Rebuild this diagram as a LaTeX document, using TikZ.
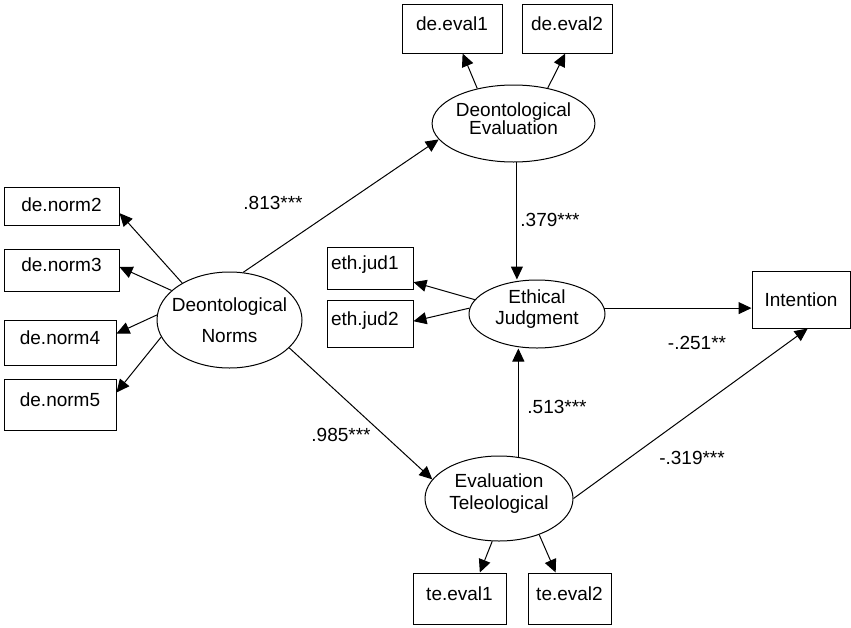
\documentclass[tikz,border=0pt]{standalone}
\usepackage{fontspec}
\setmainfont{Liberation Sans}
\usetikzlibrary{shapes.geometric,arrows.meta}
\begin{document}
\begin{tikzpicture}[x=0.5pt,y=-0.5pt,line width=0.5pt,font=\fontsize{9.5}{10}\selectfont,
	>={Triangle[length=6.5pt,width=6pt]},
	box/.style={draw,inner sep=0pt,text depth=5pt},
	lat/.style={draw,ellipse,inner xsep=0pt,inner ysep=-1pt,align=center},
	jtxt/.style={anchor=north west,inner xsep=2pt}]
			\useasboundingbox (0,0) rectangle (851,627);
			% biến tiềm ẩn
			\node[lat,text depth=5pt,minimum width=80.5pt,minimum height=38.5pt] (de) at (513.5,123.5) {Deontological\\[-1pt]Evaluation};
			\node[lat,inner xsep=-4pt,minimum width=72.5pt,minimum height=48pt] (dn) at (229.5,320) {Deontological\\[5.5pt]Norms};
			\node[lat,text depth=6.5pt,minimum width=68pt,minimum height=34pt] (ej) at (537,314) {Ethical\\[0.5pt]Judgment};
			\node[lat,text depth=7pt,minimum width=74pt,minimum height=42.5pt] (et) at (499,498.5) {Evaluation\\[1pt]Teleological};
			% biến quan sát
			\node[box,minimum width=50pt,minimum height=24.5pt] (e1) at (452,28.5) {de.eval1};
			\node[box,minimum width=45pt,minimum height=24.5pt] (e2) at (567,28.5) {de.eval2};
			\node[box,minimum width=57.5pt,minimum height=19pt,text depth=1pt] (n2) at (61.5,206) {de.norm2};
			\node[box,minimum width=57.5pt,minimum height=21pt] (n3) at (61.5,270) {de.norm3};
			\node[box,minimum width=56pt,minimum height=22.5pt] (n4) at (60,342.5) {de.norm4};
			\node[box,minimum width=56pt,minimum height=25.5pt] (n5) at (60,404.5) {de.norm5};
			\node[box,minimum width=43pt,minimum height=21pt] (j1) at (370,268) {};
			\node[box,minimum width=43pt,minimum height=23.5pt] (j2) at (370,323.5) {};
			\node[jtxt,inner ysep=4.25pt] (j1t) at (j1.north west) {eth.jud1};
			\node[jtxt,inner ysep=5.75pt] (j2t) at (j2.north west) {eth.jud2};
			\node[box,minimum width=49pt,minimum height=28.5pt,text depth=0pt] (int) at (801,299.5) {Intention};
			\node[box,minimum width=46.5pt,minimum height=25.5pt] (t1) at (459.5,598.5) {te.eval1};
			\node[box,minimum width=41.5pt,minimum height=25.5pt] (t2) at (569.5,598.5) {te.eval2};
			% đường nối
			\draw[->] (dn.74) -- (de.192);
			\draw[->] (dn.-25.6) -- (et.164.6);
			\draw[->] (de.136.7) -- (e1.-67.8);
			\draw[->] (de.46.8) -- (e2.-94.7);
			\draw[->] (de.-85) -- (ej.north -| de.-85);
			\draw[->] (et.65.9) -- (ej.south -| et.65.9);
			\draw[->] (ej.167.7) -- (j1.-18);
			\draw[->] (ej.175.9) -- (j2.3.3);
			\draw[->] (ej.5.9) -- (ej.5.9 -| int.west);
			\draw[->] (et.east) -- (int.-77.2);
			\draw[->] (et.261.4) -- (t1.52.3);
			\draw[->] (et.-42.6) -- (t2.118.7);
			\draw[->] (dn.142.5) -- (n2.-7);
			\draw[->] (dn.153) -- (n3.3);
			\draw[->] (dn.176) -- (n4.9.6);
			\draw[->] (dn.194.5) -- (n5.12.6);
			% hệ số
			\node (c1) at (273,203) {.813***};
			\node (c2) at (341,435) {.985***};
			\node (c3) at (550,220) {.379***};
			\node (c4) at (557,407) {.513***};
			\node (c5) at (697,343) {-.251**};
			\node (c6) at (692,458) {-.319***};
\end{tikzpicture}
\end{document}
